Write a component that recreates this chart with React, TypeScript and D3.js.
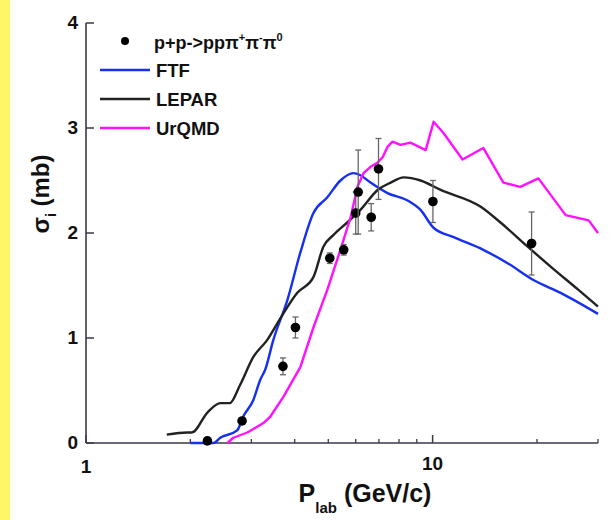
import React from "react";
import * as d3 from "d3";

const ftfX = [2.0, 2.33, 2.44, 2.73, 2.84, 3.04, 3.18, 3.29, 3.47, 3.81, 4.15, 4.53, 4.97, 5.42, 5.91, 6.19, 6.62, 7.41, 8.47, 9.23, 10.06, 11.5, 14.0, 16.5, 19.6, 23.4, 30];
const ftfY = [0.0, 0.0, 0.05, 0.12, 0.25, 0.41, 0.6, 0.7, 0.98, 1.36, 1.81, 2.19, 2.34, 2.5, 2.57, 2.55, 2.48, 2.38, 2.31, 2.22, 2.05, 1.96, 1.84, 1.71, 1.55, 1.43, 1.23];

const leparX = [1.71, 1.96, 2.02, 2.24, 2.44, 2.6, 2.78, 3.04, 3.33, 3.64, 4.07, 4.53, 4.84, 5.17, 5.67, 6.19, 6.94, 7.57, 8.25, 9.23, 10.55, 13.77, 15.7, 18.8, 21.9, 26.3, 30];
const leparY = [0.08, 0.1, 0.1, 0.29, 0.38, 0.38, 0.55, 0.82, 0.98, 1.19, 1.43, 1.58, 1.87, 1.98, 2.1, 2.22, 2.41, 2.48, 2.53, 2.5, 2.41, 2.25, 2.1, 1.87, 1.68, 1.46, 1.3];

const urqmdX = [2.56, 2.66, 2.92, 3.25, 3.4, 3.71, 4.15, 4.53, 4.97, 5.42, 5.8, 6.07, 6.32, 6.62, 6.93, 7.17, 7.41, 7.66, 8.08, 8.63, 9.55, 10.07, 10.76, 12.2, 14.0, 16.0, 17.9, 20.2, 24.2, 28.2, 30];
const urqmdY = [0.0, 0.05, 0.1, 0.19, 0.25, 0.44, 0.72, 1.1, 1.46, 1.84, 2.15, 2.44, 2.57, 2.63, 2.67, 2.72, 2.82, 2.87, 2.84, 2.86, 2.79, 3.06, 2.95, 2.7, 2.81, 2.48, 2.44, 2.52, 2.17, 2.12, 2.0];

const dataX = [2.24, 2.82, 3.7, 4.02, 5.05, 5.54, 6.0, 6.1, 6.65, 6.98, 10.02, 19.3];
const dataY = [0.02, 0.21, 0.73, 1.1, 1.76, 1.84, 2.19, 2.39, 2.15, 2.61, 2.3, 1.9];
const dataErr = [0.0, 0.03, 0.08, 0.1, 0.05, 0.05, 0.2, 0.4, 0.13, 0.29, 0.2, 0.3];

const yTicks = [0, 1, 2, 3, 4];
const xMajor = [1, 10];
const xMinor = [2, 3, 4, 5, 6, 7, 8, 9, 20, 30];

const seriesNames = ["FTF", "LEPAR", "UrQMD"];
const seriesColors = ["#1530f0", "#222222", "#ff10ff"];

export default function App() {
  const x = d3.scaleLog().domain([1, 30]).range([86, 598]);
  const y = d3.scaleLinear().domain([0, 4]).range([443, 23]);
  const line = (xs: number[], ys: number[], smooth: boolean) =>
    d3.line<number>().x((_, i) => x(xs[i])).y((_, i) => y(ys[i]))
      .curve(smooth ? d3.curveMonotoneX : d3.curveLinear)(xs as any) || "";
  const series = [
    [ftfX, ftfY],
    [leparX, leparY],
    [urqmdX, urqmdY],
  ];
  const font = "'Liberation Sans', Arial, sans-serif";
  const axisColor = "#3a3a4a";
  return (
    <svg width={613} height={520} style={{ position: "absolute", left: 0, top: 0, background: "#fff" }} fontFamily={font}>
      <rect x={0} y={0} width={613} height={520} fill="#ffffff" />
      <rect x={0} y={0} width={10} height={520} fill="#fff566" />
      {/* axes */}
      <line x1={x(1)} x2={x(1)} y1={y(0)} y2={y(4)} stroke={axisColor} strokeWidth={1.6} />
      <line x1={x(1)} x2={x(30)} y1={y(0)} y2={y(0)} stroke={axisColor} strokeWidth={1.6} />
      {yTicks.map((t) => (
        <g key={"y" + t}>
          <line x1={x(1)} x2={x(1) + 8} y1={y(t)} y2={y(t)} stroke={axisColor} strokeWidth={1.5} />
          <text x={x(1) - 8} y={y(t) + 6} textAnchor="end" fontSize={19} fontWeight="bold" fill="#111">{t}</text>
        </g>
      ))}
      {xMajor.map((t) => (
        <g key={"xm" + t}>
          <line x1={x(t)} x2={x(t)} y1={y(0)} y2={y(0) - 8} stroke={axisColor} strokeWidth={1.5} />
          <text x={x(t)} y={t === 1 ? 473 : 470} textAnchor="middle" fontSize={19} fontWeight="bold" fill="#111">{t}</text>
        </g>
      ))}
      {xMinor.map((t) => (
        <line key={"xn" + t} x1={x(t)} x2={x(t)} y1={y(0)} y2={y(0) - 4} stroke={axisColor} strokeWidth={1.3} />
      ))}
      {/* curves */}
      {series.map((s, i) => (
        <path key={seriesNames[i]} d={line(s[0], s[1], i !== 2)} fill="none" stroke={seriesColors[i]} strokeWidth={2.4} strokeLinejoin="round" />
      ))}
      {/* data */}
      {dataX.map((dx, i) => {
        const cx = x(dx);
        const e = dataErr[i];
        return (
          <g key={"d" + i}>
            {e > 0 && (
              <g stroke="#666" strokeWidth={1.3}>
                <line x1={cx} x2={cx} y1={y(dataY[i] - e)} y2={y(dataY[i] + e)} />
                <line x1={cx - 3} x2={cx + 3} y1={y(dataY[i] - e)} y2={y(dataY[i] - e)} />
                <line x1={cx - 3} x2={cx + 3} y1={y(dataY[i] + e)} y2={y(dataY[i] + e)} />
              </g>
            )}
            <circle cx={cx} cy={y(dataY[i])} r={4.8} fill="#000" />
          </g>
        );
      })}
      {/* legend */}
      <circle cx={125} cy={41} r={4} fill="#000" />
      <text x={154} y={49} fontSize={18} fontWeight="bold" fill="#111">
        p+p-&gt;pp&#960;<tspan dy={-8} fontSize={11}>+</tspan><tspan dy={8}>&#960;</tspan><tspan dy={-8} fontSize={11}>-</tspan><tspan dy={8}>&#960;</tspan><tspan dy={-8} fontSize={11}>0</tspan>
      </text>
      {seriesNames.map((n, i) => {
        const ly = 70 + i * 29;
        return (
          <g key={"l" + n}>
            <line x1={100} x2={150} y1={ly} y2={ly} stroke={seriesColors[i]} strokeWidth={2.6} />
            <text x={156} y={ly + 7} fontSize={18.5} fontWeight="bold" fill="#111">{n}</text>
          </g>
        );
      })}
      {/* axis titles */}
      <text transform="translate(49,194) rotate(-90)" textAnchor="middle" fontSize={24} fontWeight="bold" fill="#111">
        &#963;<tspan dy={7} fontSize={14}>i</tspan><tspan dy={-7}> (mb)</tspan>
      </text>
      <text x={365} y={502} textAnchor="middle" fontSize={25} fontWeight="bold" fill="#111">
        P<tspan dy={11} fontSize={15}>lab</tspan><tspan dy={-11}> (GeV/c)</tspan>
      </text>
    </svg>
  );
}
